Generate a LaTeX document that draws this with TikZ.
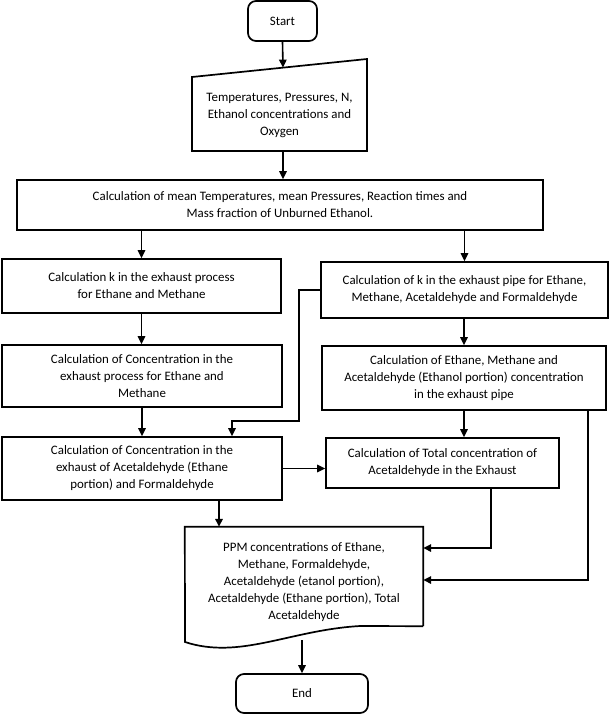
\documentclass[tikz,border=0pt]{standalone}
\usepackage{fontspec}
\setmainfont{Carlito}
\usetikzlibrary{arrows.meta}
\begin{document}
\begin{tikzpicture}[x=1pt,y=-1pt,
  txt/.style={align=center, inner sep=0pt, font=\fontsize{12.9}{17}\selectfont},
  box/.style={txt, draw, line width=1.7pt},
  term/.style={box, rounded corners=8pt},
  ln/.style={line width=1.7pt},
  arr/.style={line width=1.6pt, -{Triangle[length=8pt,width=7.5pt]}}]
\useasboundingbox (0,0) rectangle (611,715);

% terminals
\node[term, minimum width=69pt, minimum height=40pt] (start) at (282.5,21) {Start};
\node[term, minimum width=132pt, minimum height=39pt] (end) at (302,693.5) {End};

% manual input
\draw[ln] (192,77) -- (367,59) -- (367,151) -- (192,151) -- cycle;
\node[txt] (inp) at (279.5,115) {Temperatures, Pressures, N,\\ Ethanol concentrations and\\ Oxygen};
\coordinate (inpTop) at (283,67.6);
\coordinate (inpBot) at (283,151);

% process boxes
\node[box, minimum width=526pt, minimum height=50pt] (big) at (280,205)
  {Calculation of mean Temperatures, mean Pressures, Reaction times and\\ Mass fraction of Unburned Ethanol.};
\node[box, minimum width=279pt, minimum height=54pt] (lb1) at (141.5,286)
  {Calculation k in the exhaust process\\ for Ethane and Methane};
\node[box, minimum width=287pt, minimum height=56pt] (rb1) at (464.5,290)
  {Calculation of k in the exhaust pipe for Ethane,\\ Methane, Acetaldehyde and Formaldehyde};
\node[box, minimum width=280pt, minimum height=62pt] (lb2) at (142,376)
  {Calculation of Concentration in the\\ exhaust process for Ethane and\\ Methane};
\node[box, minimum width=284pt, minimum height=64pt] (rb2) at (464,378)
  {Calculation of Ethane, Methane and\\ Acetaldehyde (Ethanol portion) concentration\\ in the exhaust pipe};
\node[box, minimum width=280pt, minimum height=63pt] (lb3) at (142,468.5)
  {Calculation of Concentration in the\\ exhaust of Acetaldehyde (Ethane\\ portion) and Formaldehyde};
\node[box, minimum width=233pt, minimum height=50pt] (tot) at (442.5,463)
  {Calculation of Total concentration of\\ Acetaldehyde in the Exhaust};

% document shape
\node[minimum width=238pt, minimum height=99pt, inner sep=0pt] (ppmf) at (304,576.5) {};
\draw[ln] (ppmf.south east) -- (ppmf.north east) -- (ppmf.north west) -- (185,642)
  .. controls (240,660) and (290,630) .. (360,626) -- (ppmf.south east);
\node[txt] (ppmt) at (304,582) {PPM concentrations of Ethane,\\ Methane, Formaldehyde,\\ Acetaldehyde (etanol portion),\\ Acetaldehyde (Ethane portion), Total\\ Acetaldehyde};
\coordinate (wv) at (302,640);

% connectors
\draw[arr] (start.south) -- (inpTop);
\draw[arr] (inpBot) -- (inpBot |- big.north);
\draw[arr] (big.south -| lb1.north) -- (lb1.north);
\draw[arr] (big.south -| rb1.north) -- (rb1.north);
\draw[arr] (lb1.south) -- (lb1.south |- lb2.north);
\draw[arr] (rb1.south -| rb2.north) -- (rb2.north);
\draw[arr] (lb2.south) -- (lb2.south |- lb3.north);
\draw[arr] (rb2.south) -- (rb2.south |- tot.north);
\coordinate (c1) at (299,421);
\coordinate (c2) at ([xshift=90pt]lb3.north);
\draw[arr] (rb1.west) -- (rb1.west -| c1) -- (c1) -- (c1 -| c2) -- (c2);
\draw[arr] (lb3.east) -- (lb3.east -| tot.west);
\draw[arr] ([xshift=77pt]lb3.south) -- ([xshift=77pt]lb3.south |- ppmf.north);
\coordinate (c3) at (491,548);
\draw[arr] (tot.south -| c3) -- (c3) -- (c3 -| ppmf.east);
\coordinate (c4) at (588,580);
\draw[arr] (rb2.south -| c4) -- (c4) -- (c4 -| ppmf.east);
\draw[arr] (wv) -- (wv |- end.north);
\end{tikzpicture}
\end{document}
